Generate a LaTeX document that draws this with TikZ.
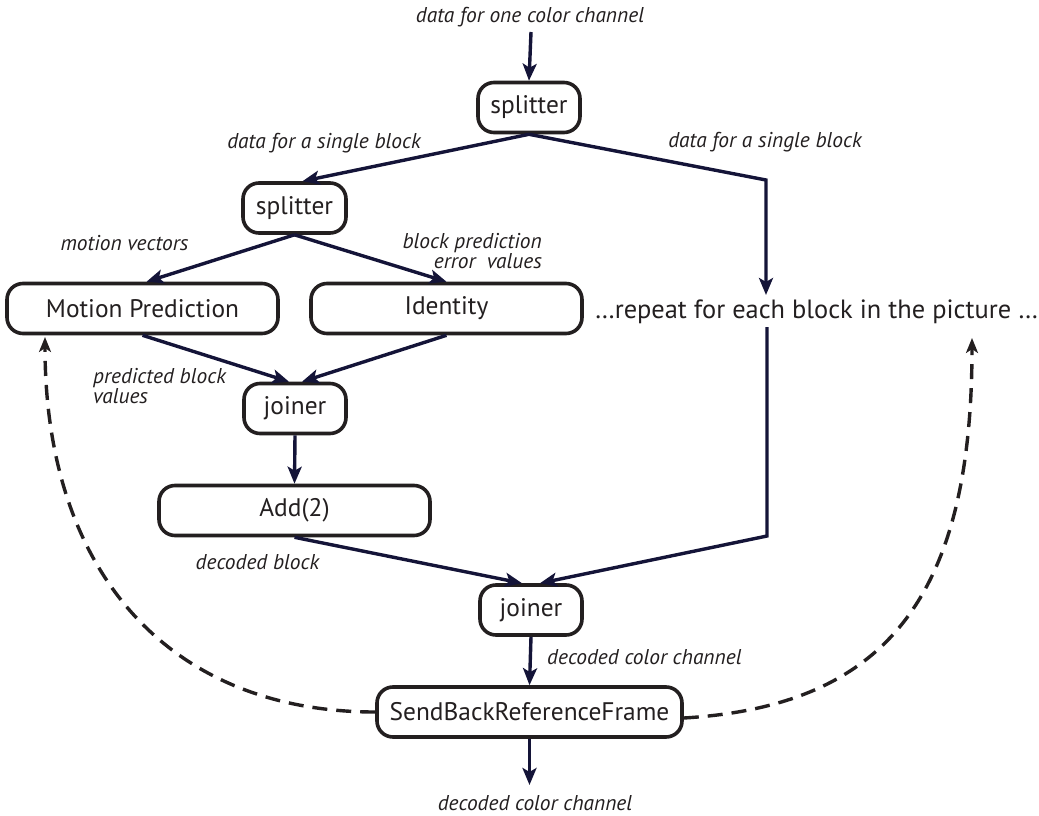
\documentclass[tikz,border=0pt]{standalone}
\usepackage{fontspec}
\setmainfont{PT Sans}
\usetikzlibrary{arrows.meta}
\definecolor{ink}{HTML}{231F20}
\definecolor{navy}{HTML}{141438}
\tikzset{
 box/.style={draw=ink, line width=3.6bp, rounded corners=16bp, minimum height=50bp, inner sep=0pt, text=ink, font=\fontsize{25.5}{30}\selectfont},
 lab/.style={text=ink, font=\fontsize{21.5}{16.5}\selectfont\itshape, inner sep=0pt},
 flow/.style={draw=navy, line width=3.4bp, -{Stealth[length=17bp,width=14bp,inset=4bp]}},
 fb/.style={draw=ink, line width=3.4bp, dash pattern=on 15bp off 9bp, -{Stealth[length=15bp,width=12bp,inset=4bp]}},
}
\begin{document}
\begin{tikzpicture}[x=1bp,y=-1bp]
\useasboundingbox (0,0) rectangle (1039,816);
% nodes
\node[box, minimum width=102bp] (sp1) at (529,107.5) {splitter};
\node[box, minimum width=103bp] (sp2) at (294.5,208) {splitter};
\node[box, minimum width=271bp] (mp) at (142.5,308.5) {Motion Prediction};
\node[box, minimum width=271bp] (id) at (446.5,308.5) {Identity};
\node[box, minimum width=102bp] (j1) at (295,408.5) {joiner};
\node[box, minimum width=271bp] (add) at (294.5,510.5) {Add(2)};
\node[box, minimum width=102bp] (j2) at (531,610) {joiner};
\node[box, minimum width=305bp] (sb) at (529.5,712) {SendBackReferenceFrame};
\node[text=ink, font=\fontsize{26.5}{30}\selectfont, inner sep=0pt] (rep) at (816.5,312) {\dots repeat for each block in the picture \dots};
% labels
\node[lab] (lin) at (530,17) {data for one color channel};
\node[lab] (lsl) at (324,143) {data for a single block};
\node[lab] (lsr) at (765,142) {data for a single block};
\node[lab] (lmv) at (124.5,243) {motion vectors};
\node[lab, align=right, anchor=east] (lbp) at (542,251) {block prediction\\error\ \ values};
\node[lab, align=left, anchor=west] (lpb) at (93,386) {predicted block\\values};
\node[lab] (ldb) at (257.5,562) {decoded block};
\node[lab, anchor=west] (ldc) at (547,657) {decoded color channel};
\node[lab] (lout) at (535,803) {decoded color channel};
% coordinates
\coordinate (in) at (531,32);
\coordinate (b1) at (766,180);
\coordinate (rin) at (766,295);
\coordinate (rout) at (767,327);
\coordinate (b2) at (767,536);
\coordinate (out) at (529.5,785);
\coordinate (fbl) at (45,337);
\coordinate (fbr) at (972,338);
% connectors
\draw[flow] (in) -- (sp1.north);
\draw[flow] (sp1.south) -- ([xshift=8bp]sp2.north);
\draw[flow] (sp1.south) -- (b1) -- (rin);
\draw[flow] (sp2.south) -- ([xshift=4bp]mp.north);
\draw[flow] (sp2.south) -- (id.north);
\draw[flow] (mp.south) -- ([xshift=-6bp]j1.north);
\draw[flow] (id.south) -- ([xshift=7bp]j1.north);
\draw[flow] (j1.south) -- (add.north);
\draw[flow] (add.south) -- ([xshift=-9bp]j2.north);
\draw[flow] (rout) -- (b2) -- ([xshift=9bp]j2.north);
\draw[flow] (j2.south) -- (sb.north);
\draw[flow] (sb.south) -- (out);
% feedback
\draw[fb] (sb.west) .. controls (170,712) and (45,573) .. (fbl);
\draw[fb] ([yshift=-6bp]sb.east) .. controls (886,706) and (972,597) .. (fbr);
\end{tikzpicture}
\end{document}
